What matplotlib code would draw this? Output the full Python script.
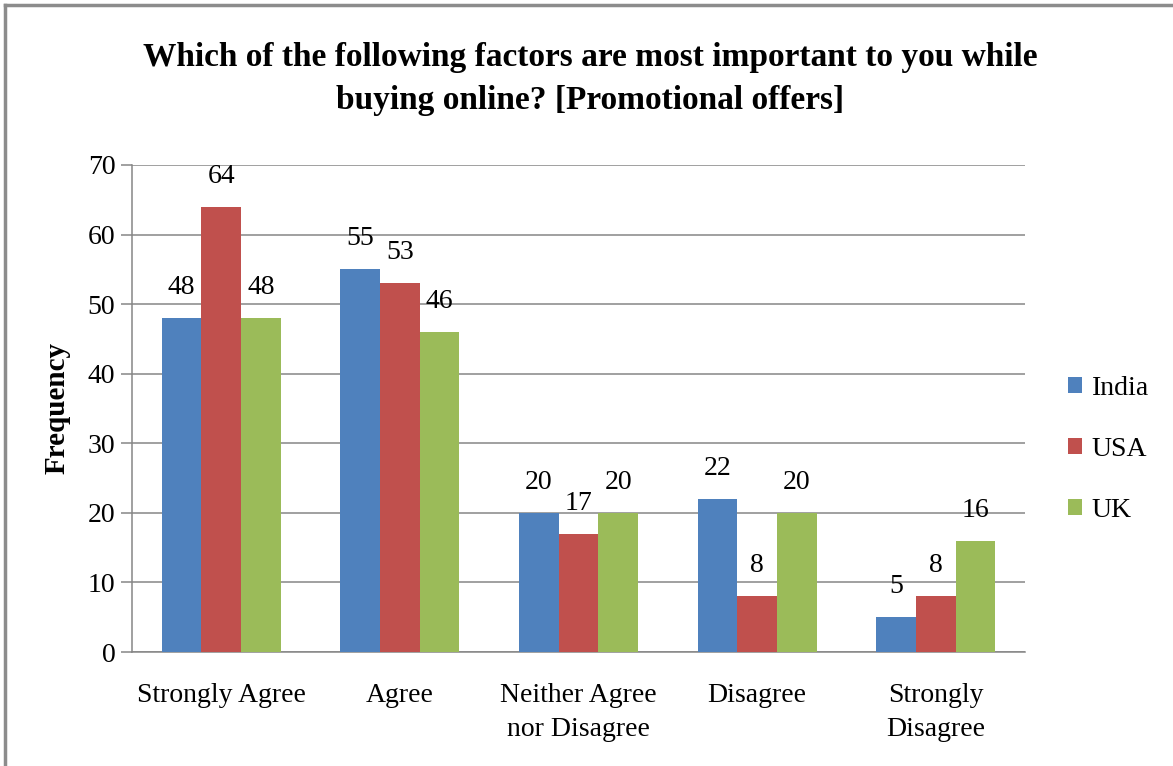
import numpy as np
import matplotlib.pyplot as plt
from matplotlib.lines import Line2D

categories = ["Strongly Agree", "Agree", "Neither Agree\nnor Disagree", "Disagree", "Strongly\nDisagree"]
series = ["India", "USA", "UK"]
india = [48, 55, 20, 22, 5]
usa = [64, 53, 17, 8, 8]
uk = [48, 46, 20, 20, 16]
colors = ["#4F81BD", "#C0504D", "#9BBB59"]

plt.rcParams["font.family"] = ["Liberation Serif", "DejaVu Serif"]

W, H = 1173, 766
fig = plt.figure(figsize=(W / 100, H / 100), dpi=100)
ax = fig.add_axes([132 / W, 1 - 652 / H, (1025 - 132) / W, (652 - 165) / H])

x = np.arange(len(categories))
bw = 0.222
grid_c = "#868686"
for i, (name, vals) in enumerate(zip(series, [india, usa, uk])):
    pos = x + (i - 1) * bw
    ax.bar(pos, vals, width=bw, color=colors[i], label=name, zorder=3)
    for p, v in zip(pos, vals):
        ax.text(p, v + 2.6, str(v), ha="center", va="bottom", fontsize=20)

ax.set_xlim(-0.5, len(categories) - 0.5)
ax.set_ylim(0, 70)
ax.set_yticks(range(0, 71, 10))
ax.yaxis.grid(True, color=grid_c, lw=1.1, zorder=0)
ax.set_axisbelow(True)
for s in ["top", "right"]:
    ax.spines[s].set_visible(False)
for s in ["left", "bottom"]:
    ax.spines[s].set_color(grid_c)
    ax.spines[s].set_linewidth(1.1)
ax.set_xticks(x)
ax.set_xticklabels(categories, fontsize=20, linespacing=1.5)
ax.tick_params(axis="x", length=0, pad=22)
ax.tick_params(axis="y", length=8, color=grid_c, width=1.1, labelsize=20, pad=4)
ax.set_ylabel("Frequency", fontsize=21, fontweight="bold", labelpad=12)

fig.text(590 / W, 1 - 79 / H,
         "Which of the following factors are most important to you while\nbuying online? [Promotional offers]",
         ha="center", va="center", fontsize=24, fontweight="bold", linespacing=1.5)

ax.legend(loc="center left", bbox_to_anchor=(1.02, 0.416), frameon=False,
          fontsize=20, handlelength=0.5, handleheight=0.5, handletextpad=0.35,
          labelspacing=1.3)

# outer chart border (top and left visible)
fig.add_artist(Line2D([5 / W, 1], [1 - 5 / H, 1 - 5 / H], color="#8C8C8C", lw=2.5, transform=fig.transFigure))
fig.add_artist(Line2D([5 / W, 5 / W], [0, 1 - 5 / H], color="#8C8C8C", lw=2.5, transform=fig.transFigure))

fig.savefig("out.png", dpi=100, facecolor="white")
